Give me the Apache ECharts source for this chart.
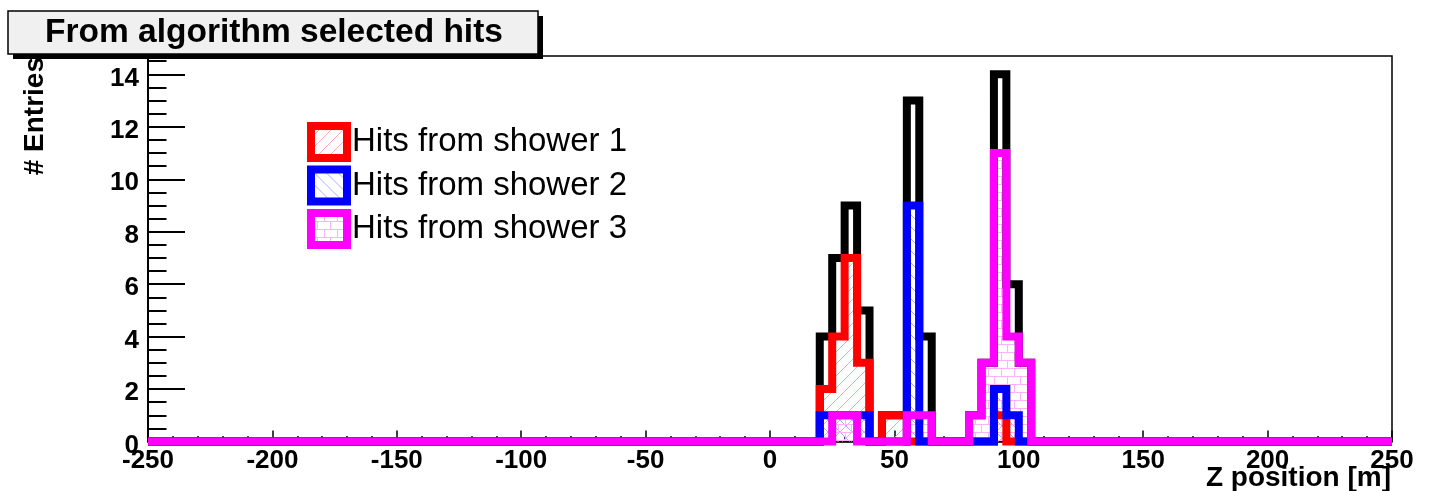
<!DOCTYPE html>
<html>
<head>
<meta charset="utf-8">
<title>From algorithm selected hits</title>
<script src="https://cdn.jsdelivr.net/npm/echarts@6/dist/echarts.min.js"></script>
<style>
  html, body { margin: 0; padding: 0; background: #fff; }
  #chart { width: 1432px; height: 491px; }
</style>
</head>
<body>
<div id="chart"></div>
<script>
// bin edges (5 m bins) of the region that has hits; outside of it all bins are empty
var binEdges = [15, 20, 25, 30, 35, 40, 45, 50, 55, 60, 65, 70, 75, 80, 85, 90, 95, 100, 105, 110];
// counts per bin, one value for each bin [binEdges[i], binEdges[i+1])
var allHits = [0, 4, 7, 9, 5, 0, 1, 1, 13, 4, 0, 0, 0, 1, 3, 14, 6, 3, 0];
var shower1 = [0, 2, 4, 7, 3, 0, 1, 1, 0, 0, 0, 0, 0, 0, 0, 1, 0, 0, 0];
var shower2 = [0, 1, 1, 1, 1, 0, 0, 0, 9, 0, 0, 0, 0, 0, 0, 2, 1, 0, 0];
var shower3 = [0, 0, 1, 1, 0, 0, 0, 0, 1, 1, 0, 0, 0, 1, 3, 11, 4, 3, 0];
var seriesNames = ['Hits from shower 1', 'Hits from shower 2', 'Hits from shower 3'];

var yLabels = [0, 2, 4, 6, 8, 10, 12, 14];
var yMinorTicks = [0.5, 1, 1.5, 2, 2.5, 3, 3.5, 4, 4.5, 5, 5.5, 6, 6.5, 7, 7.5, 8, 8.5, 9, 9.5,
                   10, 10.5, 11, 11.5, 12, 12.5, 13, 13.5, 14, 14.5];

var FONT = '"Liberation Sans", Arial, Helvetica, sans-serif';

// fill patterns like the ROOT hatch styles
function hatch(color, dir) {
  var c = document.createElement('canvas');
  c.width = 12; c.height = 12;
  var g = c.getContext('2d');
  g.strokeStyle = color;
  g.lineWidth = 1;
  g.beginPath();
  for (var k = -12; k <= 12; k += 12) {
    if (dir > 0) { g.moveTo(k, 12); g.lineTo(k + 12, 0); }
    else { g.moveTo(k, 0); g.lineTo(k + 12, 12); }
  }
  g.stroke();
  return { image: c, repeat: 'repeat' };
}
function bricks(color) {
  var c = document.createElement('canvas');
  c.width = 26; c.height = 16;
  var g = c.getContext('2d');
  g.strokeStyle = color;
  g.lineWidth = 1;
  g.beginPath();
  g.moveTo(0, 0.5); g.lineTo(26, 0.5);
  g.moveTo(0, 8.5); g.lineTo(26, 8.5);
  g.moveTo(0.5, 0); g.lineTo(0.5, 8);
  g.moveTo(13.5, 0); g.lineTo(13.5, 8);
  g.moveTo(6.5, 8); g.lineTo(6.5, 16);
  g.moveTo(19.5, 8); g.lineTo(19.5, 16);
  g.stroke();
  return { image: c, repeat: 'repeat' };
}
var redFill = hatch('#ffaaaa', 1);
var blueFill = hatch('#aaaaff', -1);
var pinkFill = bricks('#ffb0ff');

function histData(counts) {
  var pts = [[-250, 0]];
  for (var i = 0; i < counts.length; i++) pts.push([binEdges[i], counts[i]]);
  pts.push([binEdges[binEdges.length - 1], 0]);
  pts.push([250, 0]);
  return pts;
}

function histSeries(name, counts, color, fill) {
  var s = {
    name: name,
    type: 'line',
    step: 'end',
    data: histData(counts),
    symbol: 'none',
    showSymbol: false,
    clip: false,
    silent: true,
    itemStyle: { color: color },
    lineStyle: { color: color, width: 8, join: 'miter', cap: 'butt' },
  };
  if (fill) s.areaStyle = { color: fill, opacity: 1 };
  return s;
}

var chart = echarts.init(document.getElementById('chart'));
var option = {
  animation: false,
  backgroundColor: '#fff',
  grid: {
    left: 148, right: 40, top: 56, bottom: 49.5,
    show: true, borderColor: '#000', borderWidth: 1.5,
  },
  xAxis: {
    type: 'value',
    min: -250, max: 250, interval: 50,
    axisLine: { show: true, onZero: false, lineStyle: { color: '#000', width: 1.5 } },
    axisTick: { show: true, inside: true, length: 11, lineStyle: { color: '#000', width: 1.5 } },
    minorTick: { show: true, splitNumber: 5, length: 5.5, lineStyle: { color: '#000', width: 1.5 } },
    axisLabel: { fontSize: 26, fontWeight: 'bold', fontFamily: FONT, color: '#000', margin: 6 },
    splitLine: { show: false },
  },
  yAxis: [
    {
      type: 'value',
      min: 0, max: 14.7,
      position: 'left', offset: 0,
      axisLine: { show: true, onZero: false, lineStyle: { color: '#000', width: 2 } },
      axisTick: { show: true, inside: true, length: 37, customValues: yLabels, lineStyle: { color: '#000', width: 2 } },
      axisLabel: {
        customValues: yLabels, margin: 9,
        formatter: function (v) { return '{a|' + v + '}'; },
        rich: {
          a: { fontSize: 26, fontWeight: 'bold', fontFamily: FONT, color: '#000', padding: [8, 0, 0, 0] },
        },
      },
      splitLine: { show: false },
    },
    {
      type: 'value',
      min: 0, max: 14.7,
      position: 'left', offset: 0,
      axisLine: { show: false, onZero: false },
      axisTick: { show: true, inside: true, length: 18.5, customValues: yMinorTicks, lineStyle: { color: '#000', width: 2 } },
      axisLabel: { show: false },
      splitLine: { show: false },
    },
  ],
  legend: {
    orient: 'vertical',
    left: 302, top: 117,
    icon: 'rect',
    itemWidth: 36, itemHeight: 32, itemGap: 3.5,
    selectedMode: false,
    textStyle: { fontSize: 33, color: '#000', fontFamily: FONT, lineHeight: 34 },
    data: [
      { name: seriesNames[0], itemStyle: { color: redFill, borderColor: '#ff0000', borderWidth: 8 } },
      { name: seriesNames[1], itemStyle: { color: blueFill, borderColor: '#0000ff', borderWidth: 8 } },
      { name: seriesNames[2], itemStyle: { color: pinkFill, borderColor: '#ff00ff', borderWidth: 8 } },
    ],
  },
  graphic: [
    { type: 'rect', z: 100, shape: { x: 13, y: 16, width: 530, height: 43 }, style: { fill: '#000' } },
    { type: 'rect', z: 101, shape: { x: 8, y: 11, width: 530, height: 43 }, style: { fill: '#f0f0f0', stroke: '#000', lineWidth: 1.5 } },
    {
      type: 'text', z: 102, x: 274, y: 33,
      style: { text: 'From algorithm selected hits', font: 'bold 33.5px ' + FONT, fill: '#000', align: 'center', verticalAlign: 'middle' },
    },
    {
      type: 'text', z: 102, x: 35, y: 57, rotation: Math.PI / 2,
      style: { text: '# Entries', font: 'bold 28px ' + FONT, fill: '#000', align: 'right', verticalAlign: 'middle' },
    },
    {
      type: 'text', z: 102, x: 1391, y: 478,
      style: { text: 'Z position [m]', font: 'bold 28px ' + FONT, fill: '#000', align: 'right', verticalAlign: 'middle' },
    },
  ],
  series: [
    histSeries('All hits', allHits, '#000000', null),
    histSeries(seriesNames[0], shower1, '#ff0000', redFill),
    histSeries(seriesNames[1], shower2, '#0000ff', blueFill),
    histSeries(seriesNames[2], shower3, '#ff00ff', pinkFill),
  ],
};
chart.setOption(option);
</script>
</body>
</html>
